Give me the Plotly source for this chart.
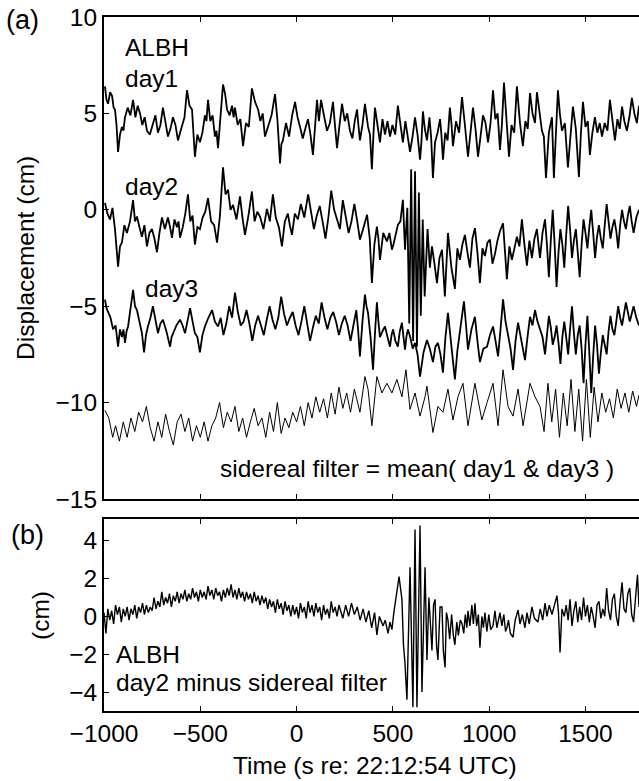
import plotly.graph_objects as go

# ---------------- data ----------------
day1_t = [-995,-987,-979,-968,-958,-950,-943,-935,-927,-917,-907,-899,-891,-877,-863,-849,-837,-825,-813,-801,
          -789,-777,-762,-746,-733,-720,-707,-694,-681,-668,-655,-642,-629,-616,-605,-595,-582,-569,-556,-543,
          -535,-528,-515,-502,-489,-476,-468,-460,-448,-436,-424,-416,-408,-395,-382,-371,-361,-348,-335,-327,
          -320,-306,-292,-278,-263,-248,-232,-216,-200,-188,-176,-164,-147,-130,-112,-99,-86,-79,-71,-55,
          -39,-23,-8,5,18,32,45,59,72,85,95,106,116,127,142,158,173,189,200,210,
          223,236,250,263,277,290,302,314,321,329,342,355,363,371,381,391,399,407,420,433,
          446,459,472,485,498,512,526,539,552,565,577,589,602,615,628,641,648,656,666,677,
          690,699,708,719,732,745,752,760,772,784,796,804,812,828,844,859,874,890,903,916,
          929,942,955,968,981,994,1007,1020,1032,1044,1056,1066,1077,1090,1103,1116,1130,1144,1160,1175,
          1188,1200,1212,1225,1238,1248,1261,1274,1284,1295,1310,1326,1336,1346,1357,1367,1378,1393,1409,1422,
          1435,1450,1466,1476,1487,1500,1512,1523,1536,1549,1562,1574,1586,1600,1614,1627,1640,1653,1666,1678,
          1690,1702,1715,1728,1741,1754,1767,1778]
day1_v = [6.4,5.7,5.5,6.1,5.9,5.3,5.2,4.4,3.0,3.9,4.3,4.1,4.8,5.3,4.9,5.7,4.8,5.4,5.0,4.4,
          4.8,4.1,3.9,4.5,4.9,4.0,4.4,5.3,4.6,3.8,4.2,4.8,4.4,3.6,4.0,4.3,4.8,6.2,5.4,5.2,
          4.0,2.75,3.9,3.5,4.0,4.9,4.6,5.7,4.6,4.9,3.8,4.1,3.2,4.9,6.5,6.0,5.2,4.9,5.4,4.8,
          5.3,4.4,4.7,3.3,4.5,4.3,6.3,5.6,5.2,4.6,5.0,3.8,4.4,4.9,6.0,4.6,2.4,3.4,3.6,4.5,
          3.8,4.9,5.6,4.8,4.3,3.7,4.2,4.7,3.9,2.85,4.2,5.7,4.6,5.7,4.9,4.1,4.5,5.6,4.3,3.2,
          4.4,5.5,4.6,5.0,4.1,3.7,4.6,5.2,4.4,3.6,4.4,5.5,4.9,4.3,3.9,2.1,3.9,5.3,4.4,3.5,
          4.7,3.9,4.6,3.8,4.4,3.9,5.4,4.5,3.5,4.6,3.9,3.0,3.8,4.8,3.9,2.6,3.5,5.1,4.2,3.6,
          4.8,3.7,1.65,3.5,4.0,4.7,3.9,2.6,4.0,3.6,5.3,4.5,3.3,4.6,4.0,5.85,4.4,2.75,4.0,5.3,
          4.2,2.75,3.8,4.9,4.5,3.5,4.5,6.2,4.7,5.0,3.1,4.4,6.6,4.6,2.75,4.4,4.0,6.4,4.5,3.3,
          4.6,4.2,6.05,5.0,4.5,6.1,5.0,4.1,3.8,1.65,4.0,4.8,1.65,4.0,6.2,5.0,4.1,4.5,2.2,3.8,
          5.35,4.2,1.7,3.9,5.6,4.3,4.6,2.85,4.0,4.8,4.0,4.5,3.8,4.5,4.1,5.7,4.6,3.6,4.7,4.2,
          5.35,4.6,4.1,4.8,5.8,5.0,4.5,5.4]

day2_t = [-995,-982,-969,-956,-943,-927,-917,-907,-894,-881,-865,-849,-839,-829,-816,-803,-790,-777,-764,-751,
          -738,-725,-712,-699,-684,-668,-657,-647,-634,-621,-613,-605,-591,-578,-564,-552,-540,-528,-515,-502,
          -488,-474,-460,-444,-428,-413,-398,-382,-369,-356,-343,-330,-312,-294,-281,-268,-250,-232,-218,-204,
          -190,-172,-154,-139,-123,-108,-92,-76,-61,-45,-35,-24,-9,7,22,40,60,75,90,105,
          120,135,150,165,180,195,210,225,240,255,270,285,300,315,329,348,366,380,391,404,
          417,425,433,450,469,482,495,503,511,519,526,539,552,563,575,585,595,605,615,625,
          635,645,655,665,680,692,703,716,729,742,755,770,786,804,822,835,848,861,874,887,
          900,913,926,939,952,965,978,991,1004,1017,1030,1043,1056,1072,1082,1092,1105,1118,1131,1144,
          1157,1170,1183,1196,1209,1222,1235,1248,1256,1264,1277,1290,1300,1310,1320,1330,1340,1350,1360,1370,
          1380,1390,1400,1410,1420,1430,1440,1450,1460,1470,1480,1490,1500,1510,1520,1530,1540,1550,1560,1570,
          1580,1590,1600,1610,1620,1630,1640,1650,1660,1670,1680,1690,1700,1710,1720,1730,1740,1750,1764,1778]
day2_v = [0.36,-0.2,-0.5,0.1,-1.0,-2.95,-1.9,-1.7,-0.8,-1.2,-0.6,0.5,-0.6,-0.35,-0.9,-1.4,-0.8,-1.9,-1.2,-1.0,
          -1.5,-2.2,-1.2,-0.4,-1.0,-0.4,-0.9,-1.45,-0.5,-0.9,-0.6,-1.45,-0.9,-0.2,0.8,-0.6,-0.3,-1.8,-0.9,-1.0,
          -0.4,-0.1,0.6,-0.6,-0.8,-1.7,-0.3,2.2,0.8,1.05,0.0,0.25,-0.5,0.7,-0.4,-1.3,-0.3,0.95,-0.6,-0.1,
          -0.35,-1.0,0.05,-0.6,0.8,-0.4,-0.9,-1.9,-0.6,-0.2,-0.8,-1.3,-0.2,-0.5,0.3,-0.4,0.8,0.0,-1.0,-0.3,
          0.2,-0.6,-1.5,-0.4,1.0,0.0,-0.5,-1.0,0.5,-0.3,-1.2,-0.6,0.3,-0.6,-1.55,-0.9,-0.26,-1.5,-3.8,-1.8,
          -0.87,-1.5,-2.6,-1.2,-1.64,-1.2,-2.07,-1.8,-1.46,-1.0,-0.78,-0.6,0.52,-2.07,0.1,-5.9,2.1,-6.8,2.0,-7.1,
          0.9,-5.5,-0.5,-4.5,-1.0,-3.0,-1.9,-2.8,-3.8,-2.5,-2.07,-4.5,-1.2,-3.0,-4.1,-2.0,-2.6,-1.8,-1.3,-2.2,
          -3.0,-1.5,-0.95,-2.2,-3.8,-2.0,-2.4,-1.7,-1.55,-2.8,-2.3,-1.6,-1.1,-0.7,-2.0,-3.6,-1.9,-2.6,-2.0,-1.4,
          -1.9,-0.5,-1.8,-2.9,-1.6,-2.5,-1.5,-1.0,-1.8,-2.5,-1.2,-0.5,-1.8,-3.5,-1.6,0.0,-1.8,-4.0,-2.2,-1.0,
          -1.8,-3.0,-1.3,0.2,-1.0,-2.5,-1.6,-1.0,-2.2,-3.5,-1.8,-0.5,-1.2,-2.0,-0.9,0.0,-1.2,-2.5,-1.4,-0.8,
          -1.5,-2.0,-0.8,0.3,-0.6,-1.5,-0.9,-0.5,-1.1,-2.0,-0.8,0.0,-0.6,-1.0,-0.3,0.2,-0.6,-1.2,-0.4,0.0]

day3_t = [-995,-987,-979,-966,-953,-940,-927,-917,-907,-899,-891,-883,-875,-862,-849,-839,-829,-816,-803,-792,
          -782,-772,-759,-746,-733,-720,-707,-694,-676,-657,-649,-642,-624,-605,-592,-579,-566,-553,-540,-528,
          -515,-502,-489,-476,-458,-439,-424,-408,-394,-380,-365,-350,-335,-320,-305,-290,-275,-260,-245,-230,
          -215,-200,-185,-170,-155,-140,-125,-110,-95,-80,-65,-50,-35,-20,-5,10,25,40,55,70,
          85,100,115,130,145,160,175,190,205,220,235,250,265,280,295,310,320,329,342,355,
          363,371,384,397,407,417,425,433,446,459,472,485,493,501,513,526,536,547,555,563,
          570,578,590,603,615,628,641,659,677,692,708,721,734,747,760,773,786,804,822,835,
          848,858,869,880,890,908,926,939,952,970,989,1004,1020,1033,1046,1059,1072,1085,1098,1111,
          1124,1137,1150,1168,1186,1199,1212,1225,1238,1251,1264,1277,1290,1300,1310,1320,1330,1340,1350,1360,
          1370,1380,1390,1400,1410,1420,1430,1440,1450,1460,1470,1480,1490,1500,1510,1520,1530,1540,1550,1560,
          1570,1580,1590,1600,1610,1620,1630,1640,1650,1660,1670,1680,1690,1700,1710,1720,1730,1740,1750,1764,
          1778]
day3_v = [-4.66,-5.1,-5.3,-5.6,-6.2,-6.0,-7.1,-6.2,-6.6,-6.2,-6.9,-6.3,-6.05,-5.2,-4.15,-5.0,-5.2,-5.8,-6.4,-7.4,
          -6.5,-6.05,-5.6,-5.0,-5.8,-6.4,-5.9,-5.7,-6.3,-7.1,-6.6,-6.4,-6.0,-5.7,-6.0,-6.4,-5.8,-5.1,-5.8,-6.4,
          -6.6,-7.4,-6.5,-6.05,-5.6,-5.2,-5.8,-6.05,-5.6,-6.5,-5.9,-5.0,-5.6,-4.3,-5.3,-6.0,-5.8,-5.2,-5.9,-6.8,
          -6.0,-5.5,-6.0,-6.5,-5.7,-5.0,-5.7,-6.2,-5.6,-4.5,-5.4,-6.0,-5.6,-5.3,-6.0,-6.5,-5.8,-5.0,-5.9,-6.8,
          -6.1,-5.5,-5.9,-4.8,-5.6,-6.2,-5.6,-5.3,-5.8,-6.5,-5.9,-5.5,-6.0,-6.8,-6.0,-5.2,-6.3,-7.6,-5.8,-4.4,
          -5.0,-5.35,-6.6,-8.3,-6.4,-4.8,-5.8,-6.6,-6.3,-6.05,-6.6,-7.1,-6.5,-6.2,-6.8,-7.1,-6.3,-5.85,-6.6,-7.25,
          -6.6,-6.2,-6.6,-7.2,-6.9,-7.5,-8.65,-7.4,-6.75,-7.2,-7.9,-7.1,-6.9,-7.5,-8.45,-6.6,-5.35,-7.0,-8.8,-7.3,
          -6.2,-5.6,-4.75,-6.0,-7.25,-6.2,-5.55,-6.8,-7.9,-7.2,-7.1,-6.5,-6.05,-6.8,-7.6,-6.2,-4.65,-5.8,-6.6,-7.2,
          -8.3,-6.8,-5.85,-6.9,-7.8,-6.6,-5.55,-6.0,-5.2,-5.8,-6.2,-6.6,-7.5,-6.6,-5.5,-6.1,-7.0,-6.6,-6.0,-6.9,
          -8.0,-6.6,-5.8,-6.6,-7.5,-6.2,-5.0,-6.4,-7.5,-6.5,-6.0,-7.2,-9.0,-7.0,-5.5,-7.4,-9.5,-7.6,-6.0,-7.0,
          -8.5,-7.4,-6.5,-7.0,-7.5,-6.3,-5.5,-6.2,-6.5,-5.8,-5.0,-5.6,-6.0,-5.4,-4.8,-5.3,-5.8,-5.4,-5.0,-5.6,
          -6.0]

filt_t = [-995,-975,-955,-940,-920,-900,-880,-860,-840,-820,-800,-780,-760,-740,-720,-700,-680,-660,-640,-620,
          -600,-580,-560,-540,-520,-500,-480,-460,-440,-420,-400,-380,-360,-340,-320,-300,-280,-260,-240,-220,
          -200,-180,-160,-140,-120,-100,-80,-60,-40,-20,0,20,40,60,80,100,120,140,160,180,
          200,220,240,260,280,300,329,355,371,391,417,443,469,495,521,547,568,589,615,641,
          667,677,708,734,760,786,812,838,864,890,926,962,989,1020,1046,1072,1098,1124,1150,1176,
          1212,1238,1264,1285,1305,1325,1345,1365,1385,1405,1425,1445,1465,1485,1505,1525,1545,1565,1585,1605,
          1625,1645,1665,1685,1705,1725,1745,1765,1778]
filt_v = [-10.4,-10.8,-11.8,-11.2,-12.0,-11.0,-11.8,-10.8,-11.5,-10.5,-11.0,-10.2,-11.3,-12.0,-11.0,-11.8,-10.6,-11.5,-12.2,-11.0,
          -10.6,-11.5,-10.8,-12.0,-11.2,-11.8,-11.0,-12.0,-11.2,-10.8,-10.0,-11.3,-10.5,-11.0,-10.2,-11.5,-10.8,-11.8,-11.0,-10.3,
          -11.2,-10.8,-11.8,-10.5,-11.5,-10.0,-11.6,-10.8,-11.3,-10.5,-11.0,-10.2,-11.2,-10.0,-10.8,-9.7,-10.5,-9.8,-10.8,-9.5,
          -10.6,-9.2,-10.3,-9.5,-10.5,-9.3,-10.5,-8.65,-9.3,-11.2,-8.65,-9.5,-9.0,-9.5,-8.8,-9.7,-8.3,-10.35,-9.5,-10.7,
          -9.7,-9.15,-11.55,-10.2,-10.5,-9.3,-10.9,-9.7,-9.0,-11.2,-9.0,-10.9,-10.0,-9.0,-11.2,-8.3,-10.2,-10.7,-9.3,-11.2,
          -9.0,-9.7,-10.2,-11.5,-9.0,-11.0,-9.3,-11.8,-9.5,-11.2,-8.8,-11.5,-9.3,-12.0,-8.8,-11.8,-9.2,-11.0,-9.5,-10.5,
          -9.8,-10.8,-9.3,-10.3,-9.5,-10.5,-9.4,-10.2,-9.6]

res_t = [-1000,-990,-980,-970,-960,-950,-940,-930,-920,-910,-900,-890,-880,-870,-860,-850,-840,-830,-820,-810,
         -800,-790,-780,-770,-760,-750,-740,-730,-720,-710,-700,-690,-680,-670,-660,-650,-640,-630,-620,-610,
         -600,-590,-580,-570,-560,-550,-540,-530,-520,-510,-500,-490,-480,-470,-460,-450,-440,-430,-420,-410,
         -400,-390,-380,-370,-360,-350,-340,-330,-320,-310,-300,-290,-280,-270,-260,-250,-240,-230,-220,-210,
         -200,-190,-180,-170,-160,-150,-140,-130,-120,-110,-100,-90,-80,-70,-60,-50,-40,-30,-20,-10,
         0,10,20,30,40,50,60,70,80,90,100,110,120,130,140,150,160,170,180,190,
         200,210,220,240,255,270,285,300,315,330,345,360,375,390,405,417,430,449,460,475,
         485,495,505,515,525,532,540,547,555,563,573,589,604,615,625,641,651,667,677,687,
         703,711,719,727,734,745,755,762,771,778,786,795,805,814,822,832,840,850,859,868,
         876,884,890,900,910,918,926,935,944,952,962,970,978,988,998,1008,1020,1030,1040,1056,
         1066,1076,1085,1092,1100,1110,1124,1135,1150,1160,1172,1186,1196,1208,1222,1235,1253,1265,1278,1290,
         1300,1312,1326,1340,1352,1360,1368,1378,1390,1400,1410,1420,1430,1440,1450,1460,1470,1480,1490,1500,
         1510,1520,1530,1540,1550,1560,1570,1580,1590,1600,1610,1620,1630,1640,1650,1660,1670,1680,1690,1700,
         1710,1720,1730,1740,1750,1760,1770,1778]
res_v = [0.2,-0.9,0.4,-0.2,0.3,-0.4,0.6,0.1,0.5,-0.3,0.4,0.0,0.5,-0.2,0.4,0.1,0.6,-0.1,0.5,0.2,
         0.7,0.1,0.6,0.2,0.5,0.3,1.0,0.4,0.8,0.5,1.3,0.6,1.0,0.7,1.2,0.5,1.1,0.8,1.3,0.7,
         1.2,0.9,1.4,0.8,1.2,0.9,1.5,1.0,1.3,0.8,1.4,1.0,1.3,0.9,1.6,1.1,1.4,0.9,1.5,1.1,
         1.3,0.8,1.4,1.0,1.5,1.1,1.7,1.0,1.4,0.9,1.5,1.0,1.3,0.8,1.3,0.9,1.2,0.7,1.3,0.8,
         1.1,0.6,1.1,0.7,1.0,0.4,0.9,0.5,0.8,0.2,0.9,0.4,0.7,0.1,0.8,0.3,0.6,0.0,0.6,0.1,
         0.5,-0.1,0.7,0.2,0.5,-0.1,0.8,0.2,0.6,0.0,0.7,0.2,0.5,-0.2,0.6,0.1,0.4,-0.1,0.8,0.2,
         0.5,0.0,0.6,-0.1,0.6,0.0,0.7,0.1,0.5,-0.2,0.4,-0.3,0.3,-0.6,0.2,-0.98,0.0,-0.5,-0.2,-0.9,
         -0.3,-0.7,0.2,0.8,1.6,2.1,1.5,0.9,-1.5,-2.5,-4.4,2.6,-4.8,4.6,-4.8,4.8,-4.0,2.6,-2.3,1.0,
         -1.8,0.6,0.9,-1.6,-2.3,0.5,0.5,-1.8,-2.7,0.2,-0.2,-1.2,0.1,-1.0,-1.5,-0.3,-1.0,-0.2,-0.37,-0.9,
         0.1,-0.6,0.3,-0.5,0.6,-0.4,0.7,-0.5,0.1,-1.65,0.0,-0.6,0.2,-0.8,0.1,-0.7,-0.5,0.3,-0.6,0.2,
         -0.5,0.1,-0.8,-0.6,-0.2,-0.9,-1.1,-0.2,0.34,-0.4,0.1,-0.6,0.2,-0.4,0.5,-0.1,-0.3,0.4,-0.2,0.7,
         0.0,0.6,0.1,0.7,1.1,0.2,-1.9,0.4,0.0,0.6,-0.2,0.9,-0.5,0.3,0.8,-0.3,0.5,-0.2,1.0,0.0,
         0.6,-0.3,0.5,0.0,-0.6,0.6,0.8,-0.1,0.4,0.0,1.5,0.3,-0.2,0.9,1.2,0.0,-0.5,0.8,1.8,0.4,
         0.2,1.2,1.5,0.1,-0.3,1.0,2.2,0.5]

x_ticks = [-1000, -500, 0, 500, 1000, 1500]
ya_ticks = [-15, -10, -5, 0, 5, 10]
yb_ticks = [-4, -2, 0, 2, 4]

# ---------------- figure ----------------
FONT = "Liberation Sans, Arial, Helvetica, sans-serif"
FS = 24.5
W, H = 639, 781
L, R, T, B = 104, 0, 17, 70

fig = go.Figure()
blk = "black"
for t, v, w in [(day1_t, day1_v, 1.8), (day2_t, day2_v, 1.8), (day3_t, day3_v, 1.8), (filt_t, filt_v, 1.0)]:
    fig.add_trace(go.Scatter(x=t, y=v, mode="lines", line=dict(color=blk, width=w),
                             xaxis="x", yaxis="y", showlegend=False, hoverinfo="skip"))
fig.add_trace(go.Scatter(x=res_t, y=res_v, mode="lines", line=dict(color=blk, width=1.4),
                         xaxis="x2", yaxis="y2", showlegend=False, hoverinfo="skip"))

ph = H - T - B
ytop_dom = [(711 - 499) / ph, 1.0]
ybot_dom = [0.0, (711 - 519) / ph]
xr = [-1000, 1778]

axcommon = dict(showline=True, linecolor=blk, linewidth=2, ticks="inside", ticklen=5, tickwidth=1,
                tickcolor=blk, showgrid=False, zeroline=False,
                tickfont=dict(family=FONT, size=FS, color=blk))

fig.update_layout(
    width=W, height=H,
    margin=dict(l=L, r=R, t=T, b=B, pad=0),
    paper_bgcolor="white", plot_bgcolor="white",
    xaxis=dict(axcommon, domain=[0, 1], anchor="y", range=xr, tickvals=x_ticks, showticklabels=False, mirror="ticks"),
    yaxis=dict(axcommon, domain=ytop_dom, anchor="x", range=[-15, 10], tickvals=ya_ticks),
    xaxis2=dict(axcommon, domain=[0, 1], anchor="y2", range=xr, tickvals=x_ticks, mirror="ticks", matches="x"),
    yaxis2=dict(axcommon, domain=ybot_dom, anchor="x2", range=[-5, 5.15], tickvals=yb_ticks),
    yaxis3=dict(domain=ytop_dom, anchor="x", overlaying="y", side="right", range=[-15, 10], tickvals=ya_ticks,
                ticks="inside", ticklen=5, tickcolor=blk, showticklabels=False, showline=False,
                showgrid=False, zeroline=False),
    yaxis4=dict(domain=ybot_dom, anchor="x2", overlaying="y2", side="right", range=[-5, 5.15], tickvals=yb_ticks,
                ticks="inside", ticklen=5, tickcolor=blk, showticklabels=False, showline=False,
                showgrid=False, zeroline=False),
    showlegend=False,
)

def px2x(px):
    return (px - L) / (W - L - R)

def py2y(py):
    return (711 - py) / ph

tf = dict(family=FONT, size=FS, color=blk)
tfb = dict(family=FONT, size=27, color=blk)
ann = [
    dict(text="ALBH", x=-901, y=8.4, xref="x", yref="y", xanchor="left", yanchor="middle"),
    dict(text="day1", x=-901, y=6.8, xref="x", yref="y", xanchor="left", yanchor="middle"),
    dict(text="day2", x=-901, y=1.2, xref="x", yref="y", xanchor="left", yanchor="middle"),
    dict(text="day3", x=-797, y=-4.1, xref="x", yref="y", xanchor="left", yanchor="middle"),
    dict(text="sidereal filter = mean( day1 & day3 )", x=-408, y=-13.4, xref="x", yref="y",
         xanchor="left", yanchor="middle"),
    dict(text="ALBH", x=-948, y=-2.0, xref="x2", yref="y2", xanchor="left", yanchor="middle"),
    dict(text="day2 minus sidereal filter", x=-948, y=-3.5, xref="x2", yref="y2", xanchor="left", yanchor="middle"),
    dict(text="Displacement (cm)", x=px2x(25), y=(ytop_dom[0] + ytop_dom[1]) / 2, xref="paper", yref="paper",
         textangle=-90, xanchor="center", yanchor="middle"),
    dict(text="(cm)", x=px2x(40), y=py2y(616), xref="paper", yref="paper",
         textangle=-90, xanchor="center", yanchor="middle"),
    dict(text="(a)", x=px2x(22), y=py2y(20), xref="paper", yref="paper", xanchor="center", yanchor="middle", font=tfb),
    dict(text="(b)", x=px2x(27), y=py2y(535), xref="paper", yref="paper", xanchor="center", yanchor="middle", font=tfb),
    dict(text="Time (s re: 22:12:54 UTC)", x=px2x(375), y=py2y(765), xref="paper", yref="paper",
         xanchor="center", yanchor="middle"),
]
for a in ann:
    a["showarrow"] = False
    a.setdefault("font", tf)
fig.update_layout(annotations=ann)

fig.write_html("out.html")
